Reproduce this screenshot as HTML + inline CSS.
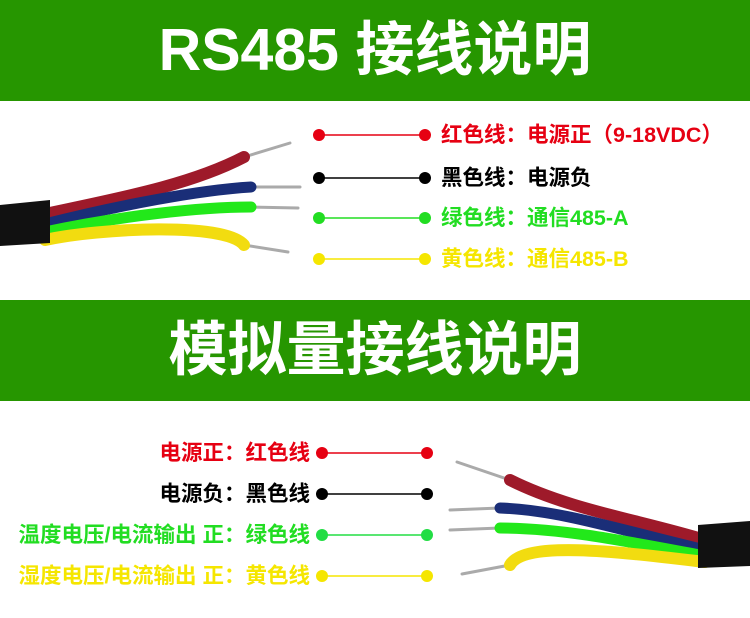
<!DOCTYPE html>
<html><head><meta charset="utf-8"><style>
body{margin:0;width:750px;height:618px;background:#fff;overflow:hidden;position:relative;font-family:"Liberation Sans","Noto Sans CJK SC",sans-serif}
.ban{position:absolute;left:0;width:750px;background:#269600;color:#fff;font-weight:bold;text-align:center}
.t{position:absolute;font-size:21.5px;font-weight:bold;white-space:nowrap;line-height:26px}
</style></head><body>
<div class="ban" style="top:0;height:101px;font-size:59px;line-height:101px">RS485 接线说明</div>
<div class="ban" style="top:300px;height:101px;font-size:59px;line-height:101px">模拟量接线说明</div>
<svg width="750" height="618" style="position:absolute;left:0;top:0">
<g stroke-width="1.5">
<line x1="319" y1="135" x2="425" y2="135" stroke="#e60012"/><circle cx="319" cy="135" r="6" fill="#e60012"/><circle cx="425" cy="135" r="6" fill="#e60012"/>
<line x1="319" y1="178" x2="425" y2="178" stroke="#000"/><circle cx="319" cy="178" r="6" fill="#000"/><circle cx="425" cy="178" r="6" fill="#000"/>
<line x1="319" y1="218" x2="425" y2="218" stroke="#22dd22"/><circle cx="319" cy="218" r="6" fill="#22dd22"/><circle cx="425" cy="218" r="6" fill="#22dd22"/>
<line x1="319" y1="259" x2="425" y2="259" stroke="#f5e600"/><circle cx="319" cy="259" r="6" fill="#f5e600"/><circle cx="425" cy="259" r="6" fill="#f5e600"/>
<line x1="322" y1="453" x2="427" y2="453" stroke="#e60012"/><circle cx="322" cy="453" r="6" fill="#e60012"/><circle cx="427" cy="453" r="6" fill="#e60012"/>
<line x1="322" y1="494" x2="427" y2="494" stroke="#000"/><circle cx="322" cy="494" r="6" fill="#000"/><circle cx="427" cy="494" r="6" fill="#000"/>
<line x1="322" y1="535" x2="427" y2="535" stroke="#22dd44"/><circle cx="322" cy="535" r="6" fill="#22dd44"/><circle cx="427" cy="535" r="6" fill="#22dd44"/>
<line x1="322" y1="576" x2="427" y2="576" stroke="#f5e600"/><circle cx="322" cy="576" r="6" fill="#f5e600"/><circle cx="427" cy="576" r="6" fill="#f5e600"/>
</g>
<g fill="none" stroke-linecap="round">
<g stroke="#aaa" stroke-width="3"><path d="M244 157 L290 143"/><path d="M251 187 L300 187"/><path d="M251 207 L298 208"/><path d="M244 245 L288 252"/></g>
<path d="M45 214 C120 198 190 185 244 157" stroke="#9e1a2a" stroke-width="12"/>
<path d="M45 224 C120 205 200 190 251 187" stroke="#1a2e78" stroke-width="11"/>
<path d="M45 232 C120 216 200 207 251 207" stroke="#22e81a" stroke-width="11"/>
<path d="M45 240 C100 228 225 222 244 245" stroke="#f2dc10" stroke-width="12"/>
<path d="M0 205 L50 200 L50 243 L0 246Z" fill="#111" stroke="none"/>
<g stroke="#aaa" stroke-width="3"><path d="M510 480 L457 462"/><path d="M500 508 L450 510"/><path d="M500 528 L450 530"/><path d="M510 565 L462 574"/></g>
<path d="M705 540 C640 520 570 510 510 480" stroke="#9e1a2a" stroke-width="12"/>
<path d="M705 550 C620 530 560 510 500 508" stroke="#1a2e78" stroke-width="11"/>
<path d="M705 556 C620 540 560 528 500 528" stroke="#22e81a" stroke-width="11"/>
<path d="M705 562 C620 552 525 540 510 565" stroke="#f2dc10" stroke-width="12"/>
<path d="M698 525 L750 521 L750 566 L698 568Z" fill="#111" stroke="none"/>
</g>
</svg>
<div class="t" style="left:441px;top:122px;color:#e60012">红色线：电源正（9-18VDC）</div>
<div class="t" style="left:441px;top:165px;color:#000">黑色线：电源负</div>
<div class="t" style="left:441px;top:205px;color:#22dd22">绿色线：通信485-A</div>
<div class="t" style="left:441px;top:246px;color:#f5e600">黄色线：通信485-B</div>
<div class="t" style="right:440px;top:440px;color:#e60012">电源正：红色线</div>
<div class="t" style="right:440px;top:481px;color:#000">电源负：黑色线</div>
<div class="t" style="right:440px;top:522px;color:#22dd22">温度电压/电流输出 正：绿色线</div>
<div class="t" style="right:440px;top:563px;color:#f5e600">湿度电压/电流输出 正：黄色线</div>
</body></html>
